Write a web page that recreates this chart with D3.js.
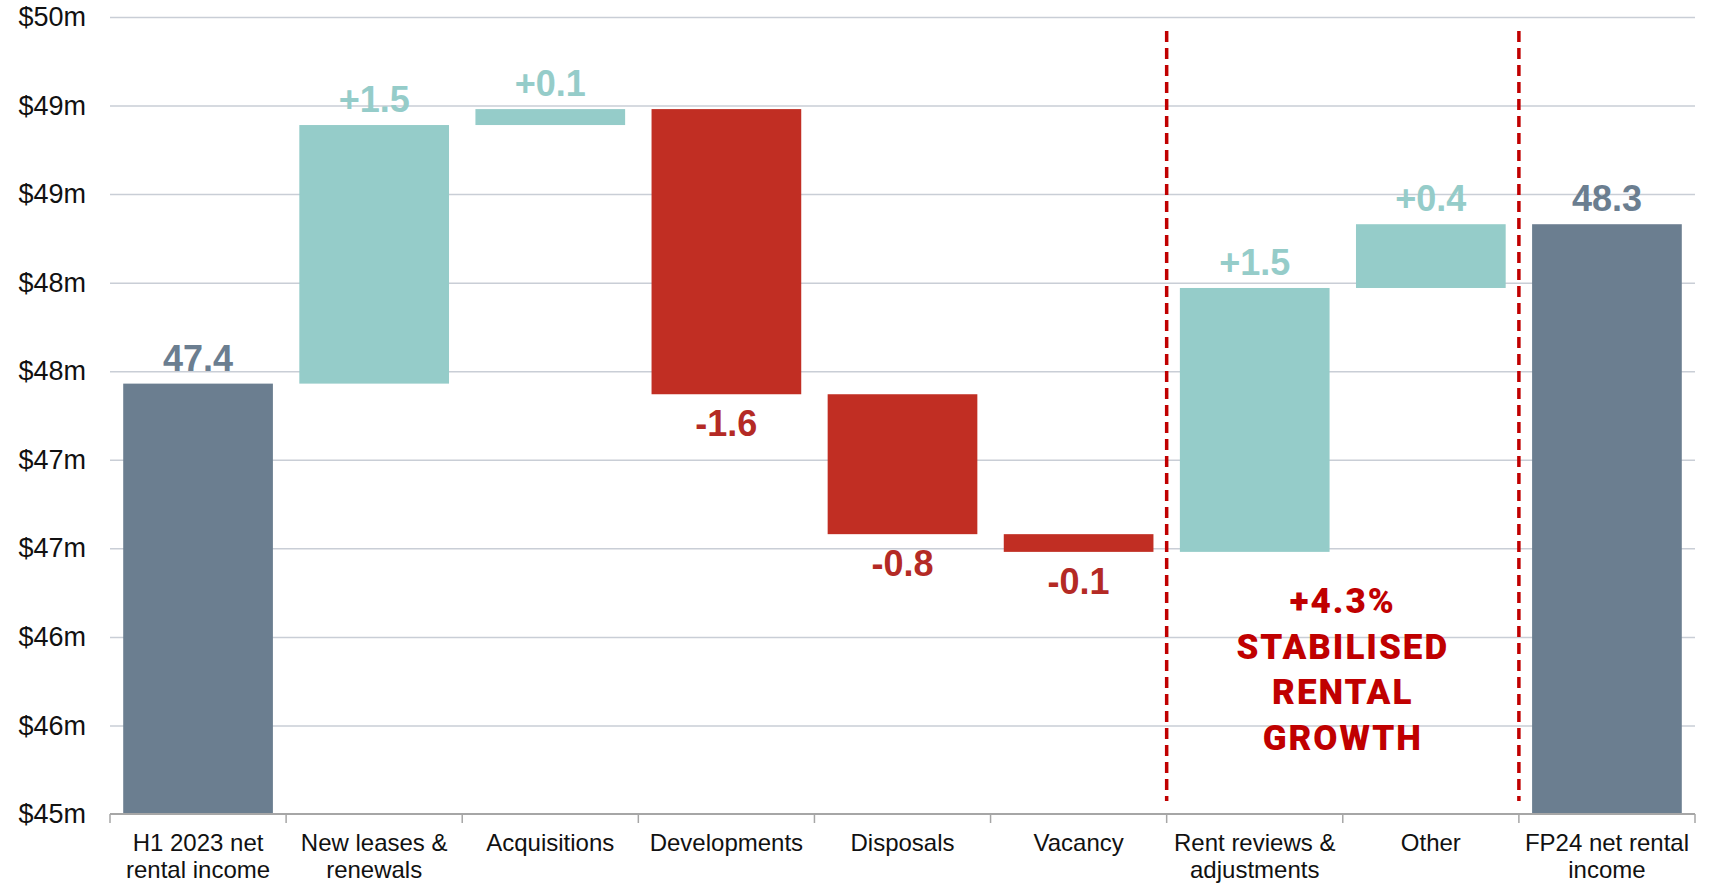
<!DOCTYPE html>
<html>
<head>
<meta charset="UTF-8">
<title>Net rental income bridge</title>
<script src="https://d3js.org/d3.v7.min.js"></script>
<style>
    body {
        margin: 0;
        background: #fff;
    }
    text {
        font-family: "Liberation Sans", Arial, sans-serif;
    }
</style>
</head>
<body>
<script>
    // categories, each one as its label lines
    const categories = [
        ["H1 2023 net", "rental income"],
        ["New leases &", "renewals"],
        ["Acquisitions"],
        ["Developments"],
        ["Disposals"],
        ["Vacancy"],
        ["Rent reviews &", "adjustments"],
        ["Other"],
        ["FP24 net rental", "income"]
    ];
    // $m: opening total, movements, closing total
    const startValue = 47.43;
    const deltas = [1.46, 0.09, -1.61, -0.79, -0.10, 1.49, 0.36];
    const endValue = 48.33;

    const yTicks = [45, 45.5, 46, 46.5, 47, 47.5, 48, 48.5, 49, 49.5];
    const noteLines = ["+4.3%", "STABILISED", "RENTAL", "GROWTH"];

    const colors = { total: "#6b7e90", up: "#95ccc9", down: "#c12e23" };
    const labelColors = { total: "#6b7e90", up: "#95ccc9", down: "#b42a25" };

    const width = 1714, height = 883;
    const margin = { top: 17, right: 19, bottom: 69, left: 110 };

    // d3 uses a true minus sign; the chart shows a plain hyphen
    const fmtTotal = d3.format(".1f");
    const fmtDelta = v => d3.format("+.1f")(v).replace("\u2212", "-");

    // build waterfall rows
    const rows = [];
    let run = startValue;
    rows.push({ key: categories[0].join(" "), lines: categories[0], y0: 45, y1: startValue, type: "total", label: fmtTotal(startValue) });
    deltas.forEach((d, i) => {
        const c = categories[i + 1];
        rows.push({ key: c.join(" "), lines: c, y0: run, y1: run + d, type: d >= 0 ? "up" : "down", label: fmtDelta(d) });
        run += d;
    });
    const last = categories[categories.length - 1];
    rows.push({ key: last.join(" "), lines: last, y0: 45, y1: endValue, type: "total", label: fmtTotal(endValue) });

    const x = d3.scaleBand()
        .domain(rows.map(d => d.key))
        .range([margin.left, width - margin.right])
        .paddingInner(0.15)
        .paddingOuter(0.075);

    const y = d3.scaleLinear()
        .domain([45, 49.5])
        .range([height - margin.bottom, margin.top]);

    const svg = d3.select("body").append("svg")
        .attr("width", width)
        .attr("height", height);

    // gridlines + y labels
    const yAxis = svg.append("g")
        .attr("transform", `translate(${margin.left},0)`)
        .call(d3.axisLeft(y)
            .tickValues(yTicks)
            .tickSize(-(width - margin.left - margin.right))
            .tickPadding(24)
            .tickFormat(d => "$" + Math.round(d) + "m"));
    yAxis.select(".domain").remove();
    yAxis.selectAll(".tick line").attr("stroke", "#c9ced6").attr("stroke-width", 1.5);
    yAxis.selectAll(".tick text")
        .attr("fill", "#111")
        .style("font-size", "27px");
    yAxis.selectAll(".tick").filter(d => d === 45).select("line").remove();

    // bars
    svg.append("g").selectAll("rect")
        .data(rows)
        .join("rect")
        .attr("x", d => x(d.key))
        .attr("width", x.bandwidth())
        .attr("y", d => y(Math.max(d.y0, d.y1)))
        .attr("height", d => Math.abs(y(d.y0) - y(d.y1)))
        .attr("fill", d => colors[d.type]);

    // value labels
    svg.append("g").selectAll("text")
        .data(rows)
        .join("text")
        .attr("x", d => x(d.key) + x.bandwidth() / 2)
        .attr("y", d => d.type === "down" ? y(d.y1) + 42 : y(d.y1) - 13)
        .attr("text-anchor", "middle")
        .attr("fill", d => labelColors[d.type])
        .style("font-size", "36px")
        .style("font-weight", "bold")
        .text(d => d.label);

    // bottom axis: line with ticks on category boundaries
    const step = x.step();
    const x0 = x.range()[0];
    const bounds = d3.range(rows.length + 1).map(i => x0 + i * step);
    const axisY = y(45);
    const bottom = svg.append("g");
    bottom.append("line")
        .attr("x1", x0).attr("x2", x.range()[1])
        .attr("y1", axisY).attr("y2", axisY)
        .attr("stroke", "#a6a6a6").attr("stroke-width", 2);
    bottom.selectAll(".btick")
        .data(bounds)
        .join("line")
        .attr("class", "btick")
        .attr("x1", d => d).attr("x2", d => d)
        .attr("y1", axisY).attr("y2", axisY + 9)
        .attr("stroke", "#a6a6a6").attr("stroke-width", 1.5);

    const xl = bottom.selectAll(".xlabel")
        .data(rows)
        .join("text")
        .attr("class", "xlabel")
        .attr("text-anchor", "middle")
        .attr("fill", "#111")
        .style("font-size", "24px");
    xl.selectAll("tspan")
        .data(d => d.lines.map(l => ({ l, cx: x(d.key) + x.bandwidth() / 2 })))
        .join("tspan")
        .attr("x", d => d.cx)
        .attr("y", (d, i) => axisY + 37 + i * 27)
        .text(d => d.l);

    // dashed separators around the stabilised group
    const seps = [bounds[6], bounds[8]];
    svg.append("g").selectAll("line")
        .data(seps)
        .join("line")
        .attr("x1", d => d).attr("x2", d => d)
        .attr("y1", 31).attr("y2", 801)
        .attr("stroke", "#c00000")
        .attr("stroke-width", 3.5)
        .attr("stroke-dasharray", "11,6");

    // annotation
    const noteX = (seps[0] + seps[1]) / 2;
    svg.append("g").selectAll("text")
        .data(noteLines)
        .join("text")
        .attr("x", noteX)
        .attr("y", (d, i) => 613 + i * 45.7)
        .attr("text-anchor", "middle")
        .attr("fill", "#c00000")
        .style("font-family", "Roboto, sans-serif")
        .style("font-weight", "900")
        .style("font-size", "35px")
        .style("letter-spacing", "2px")
        .text(d => d);
</script>
</body>
</html>
